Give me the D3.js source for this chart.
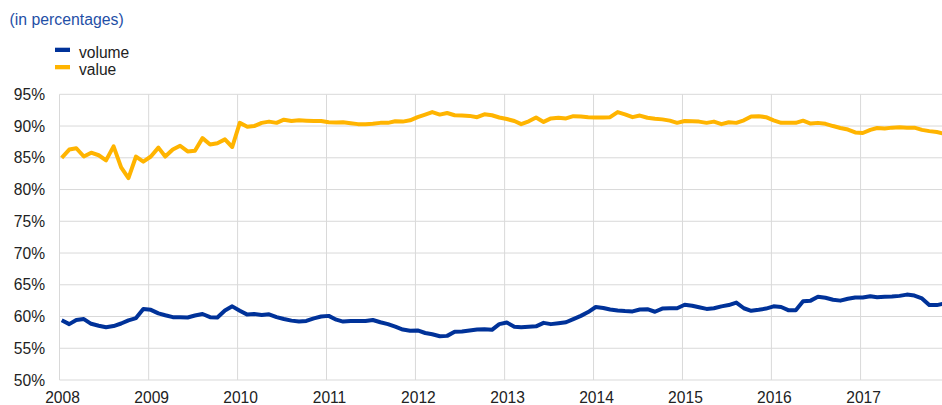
<!DOCTYPE html>
<html><head><meta charset="utf-8">
<script src="https://cdn.jsdelivr.net/npm/d3@7"></script>
<style>
html,body{margin:0;padding:0;background:#fff;}
svg{display:block;font-family:"Liberation Sans",Arial,sans-serif;}
</style></head>
<body>
<svg id="chart" width="942" height="405"></svg>
<script>
const years = [2008,2009,2010,2011,2012,2013,2014,2015,2016,2017];
const yTicks = [50,55,60,65,70,75,80,85,90,95];
const seriesNames = ["volume","value"];
const seriesColors = ["#003299","#ffb400"];
const volume = [
59.4,58.8,59.45,59.6,58.85,58.55,58.3,58.5,58.9,59.4,59.75,61.2,
61.05,60.5,60.2,59.9,59.9,59.85,60.15,60.4,59.9,59.85,60.95,61.6,
60.9,60.3,60.4,60.25,60.35,59.9,59.6,59.35,59.2,59.3,59.7,60.0,
60.1,59.5,59.2,59.3,59.3,59.3,59.45,59.1,58.8,58.4,57.95,57.75,
57.8,57.4,57.2,56.9,56.95,57.6,57.65,57.8,57.95,58.0,57.9,58.8,
59.05,58.4,58.3,58.4,58.45,59.0,58.8,58.95,59.1,59.6,60.1,60.7,
61.5,61.35,61.1,60.95,60.85,60.8,61.1,61.15,60.75,61.25,61.3,61.3,
61.85,61.7,61.45,61.2,61.3,61.6,61.8,62.2,61.3,60.9,61.05,61.25,
61.6,61.5,61.0,61.0,62.4,62.5,63.1,62.95,62.65,62.5,62.8,63.0,
63.0,63.2,63.05,63.1,63.15,63.25,63.45,63.3,62.85,61.8,61.8,62.05];
const value = [
85.0,86.3,86.5,85.2,85.8,85.4,84.6,86.8,83.5,81.8,85.2,84.4,
85.2,86.6,85.2,86.3,86.9,86.0,86.1,88.1,87.1,87.3,87.9,86.7,
90.5,89.9,90.0,90.5,90.7,90.5,91.0,90.8,90.9,90.85,90.8,90.8,
90.6,90.55,90.6,90.45,90.3,90.3,90.35,90.5,90.5,90.75,90.7,90.9,
91.4,91.8,92.2,91.8,92.05,91.7,91.65,91.6,91.4,91.85,91.7,91.35,
91.1,90.8,90.3,90.75,91.35,90.65,91.2,91.3,91.2,91.55,91.5,91.4,
91.35,91.35,91.4,92.2,91.85,91.4,91.65,91.3,91.15,91.05,90.85,90.5,
90.8,90.75,90.7,90.5,90.7,90.3,90.6,90.5,90.9,91.5,91.55,91.4,
90.9,90.5,90.5,90.5,90.85,90.4,90.5,90.35,90.0,89.7,89.45,89.0,
88.9,89.4,89.7,89.6,89.75,89.8,89.75,89.75,89.4,89.2,89.05,88.8];

const dates = volume.map((_, i) => new Date(2008 + Math.floor(i / 12), i % 12, 10));

const svg = d3.select("#chart");
const plotLeft = 59.5, plotTop = 94.3, plotBottom = 380, yearW = 89;
const x = d3.scaleTime()
  .domain([new Date(2008,0,1), new Date(2018,0,1)])
  .range([plotLeft, plotLeft + 10 * yearW]);
const y = d3.scaleLinear().domain([50,95]).range([plotBottom, plotTop]);

// title
svg.append("text").attr("x", 9.5).attr("y", 24.5)
  .attr("fill", "#1f4fa6").attr("font-size", 15.8).text("(in percentages)");

// legend
seriesNames.forEach((n, i) => {
  svg.append("rect").attr("x", 55).attr("y", 47.7 + i * 17.3).attr("width", 15).attr("height", 4.3)
    .attr("fill", seriesColors[i]);
  svg.append("text").attr("x", 79).attr("y", 57.6 + i * 17).attr("font-size", 15.6)
    .attr("fill", "#222").text(n);
});

// horizontal grid
const gy = svg.append("g");
yTicks.forEach(t => {
  gy.append("line").attr("x1", plotLeft).attr("x2", 942)
    .attr("y1", y(t)).attr("y2", y(t)).attr("stroke", "#d9d9d9").attr("stroke-width", 1);
  gy.append("text").attr("x", 45).attr("y", y(t)).attr("dy", "0.36em")
    .attr("text-anchor", "end").attr("font-size", 15.6).attr("fill", "#222").text(t + "%");
});
// vertical grid
years.forEach(yr => {
  const xx = x(new Date(yr,0,1));
  svg.append("line").attr("x1", xx).attr("x2", xx).attr("y1", plotTop).attr("y2", plotBottom)
    .attr("stroke", "#d9d9d9").attr("stroke-width", 1);
  svg.append("text").attr("x", xx + 3).attr("y", 403).attr("text-anchor", "middle")
    .attr("font-size", 15.6).attr("fill", "#222").text(yr);
});

const line = d3.line().x((d, i) => x(dates[i])).y(d => y(d));
[volume, value].forEach((s, i) => {
  svg.append("path").datum(s).attr("d", line).attr("fill", "none")
    .attr("stroke", seriesColors[i]).attr("stroke-width", 4)
    .attr("stroke-linejoin", "round");
});
</script>
</body></html>
